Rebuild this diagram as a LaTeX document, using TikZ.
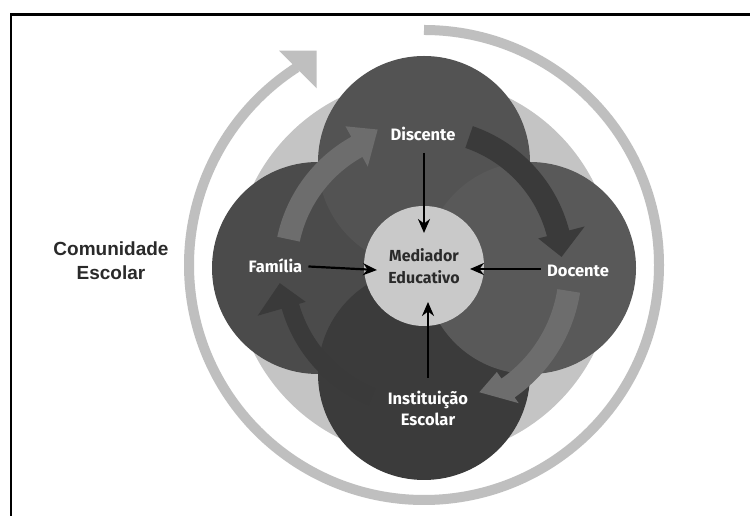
\documentclass[tikz,border=0pt]{standalone}
\usepackage{fontspec}
\setmainfont{Fira Sans}
\newfontfamily\comfont{Liberation Sans Bold}
\usetikzlibrary{arrows.meta}
\definecolor{ringc}{HTML}{BFBFBF}
\definecolor{lightc}{HTML}{C4C4C4}
\definecolor{medc}{HTML}{C9C9C9}
\definecolor{topc}{HTML}{535353}
\definecolor{leftc}{HTML}{4B4B4B}
\definecolor{rightc}{HTML}{595959}
\definecolor{botc}{HTML}{3B3B3B}
\definecolor{arrg}{HTML}{6D6D6D}
\definecolor{arrd}{HTML}{3A3A3A}
\definecolor{txtd}{HTML}{2A2A2A}
\tikzset{
  lbl/.style={text=white, font=\fontsize{16.5}{19}\selectfont\bfseries, align=center, inner sep=1pt},
  dlbl/.style={text=txtd, font=\fontsize{16}{22}\selectfont\bfseries, align=center, inner sep=1pt},
  biglbl/.style={text=txtd, font=\comfont\fontsize{19}{24}\selectfont, align=center, inner sep=1pt},
  sarrow/.style={draw=black, line width=2.2pt, -{Stealth[length=14pt,width=12pt]}},
}
% annular arrow: color, start angle, base angle, tip angle, r in, r out, head in, head out, tip r
\newcommand{\arcarrow}[9]{%
  \fill[#1] (#2:#5) arc[start angle=#2, end angle=#3, radius=#5] -- (#3:#7) -- (#4:#9) -- (#3:#8) -- (#3:#6) arc[start angle=#3, end angle=#2, radius=#6] -- cycle;}
\begin{document}
\begin{tikzpicture}[x=1pt,y=1pt]
\useasboundingbox (0,0) rectangle (750,516);
\fill[white] (0,0) rectangle (750,516);
\draw[line width=2.2pt, black] (11,-5) -- (11,501.5) -- (760,501.5);
% outer ring
\draw[ringc, line width=10pt] (424,251) ++(90:235) arc[start angle=90, end angle=-237.2, radius=235];
\fill[ringc] (316.7,465.3) -- (279,465.3) -- (316.7,427.7) -- cycle;
% light disc
\fill[lightc] (424,248) circle[radius=190];
% four circles
\fill[leftc] (318,248) circle[radius=106];
\fill[topc] (424,354) circle[radius=106];
\fill[botc] (424,142) circle[radius=106];
\fill[rightc] (530,248) circle[radius=106];
% curved arrows
\begin{scope}[shift={(424,248)}]
\arcarrow{arrg}{168}{119}{108.5}{127}{150}{116}{162}{146}
\arcarrow{arrd}{71}{14.5}{4.6}{127}{150}{118}{166}{138}
\arcarrow{arrg}{-9}{-55}{-66}{135}{158}{127}{165}{136}
\arcarrow{arrd}{248}{196}{186}{130}{148}{123}{173}{145}
\end{scope}
% centre
\node[circle, fill=medc, minimum size=120pt, inner sep=0pt] (med) at (424,250) {};
\node[dlbl] (medt) at (424,250) {Mediador\\Educativo};
\node[lbl] (disc) at (423,382) {Discente};
\node[lbl] (fam) at (275.5,250) {Família};
\node[lbl] (doc) at (578,245.5) {Docente};
\node[lbl, font=\fontsize{16.5}{21}\selectfont\bfseries] (inst) at (428,107.5) {Instituição\\Escolar};
\node[biglbl] (com) at (111,255) {Comunidade\\Escolar};
\coordinate (tD) at (424,283);
\coordinate (tF) at (377,246);
\coordinate (tR) at (470,247);
\coordinate (tI) at (428,214);
\draw[sarrow] (424,363) -- (tD);
\draw[sarrow] (fam.east) ++(5,-0.5) -- (tF);
\draw[sarrow] (doc.west) ++(-5,1.5) -- (tR);
\draw[sarrow] (428,138) -- (tI);
\end{tikzpicture}
\end{document}
